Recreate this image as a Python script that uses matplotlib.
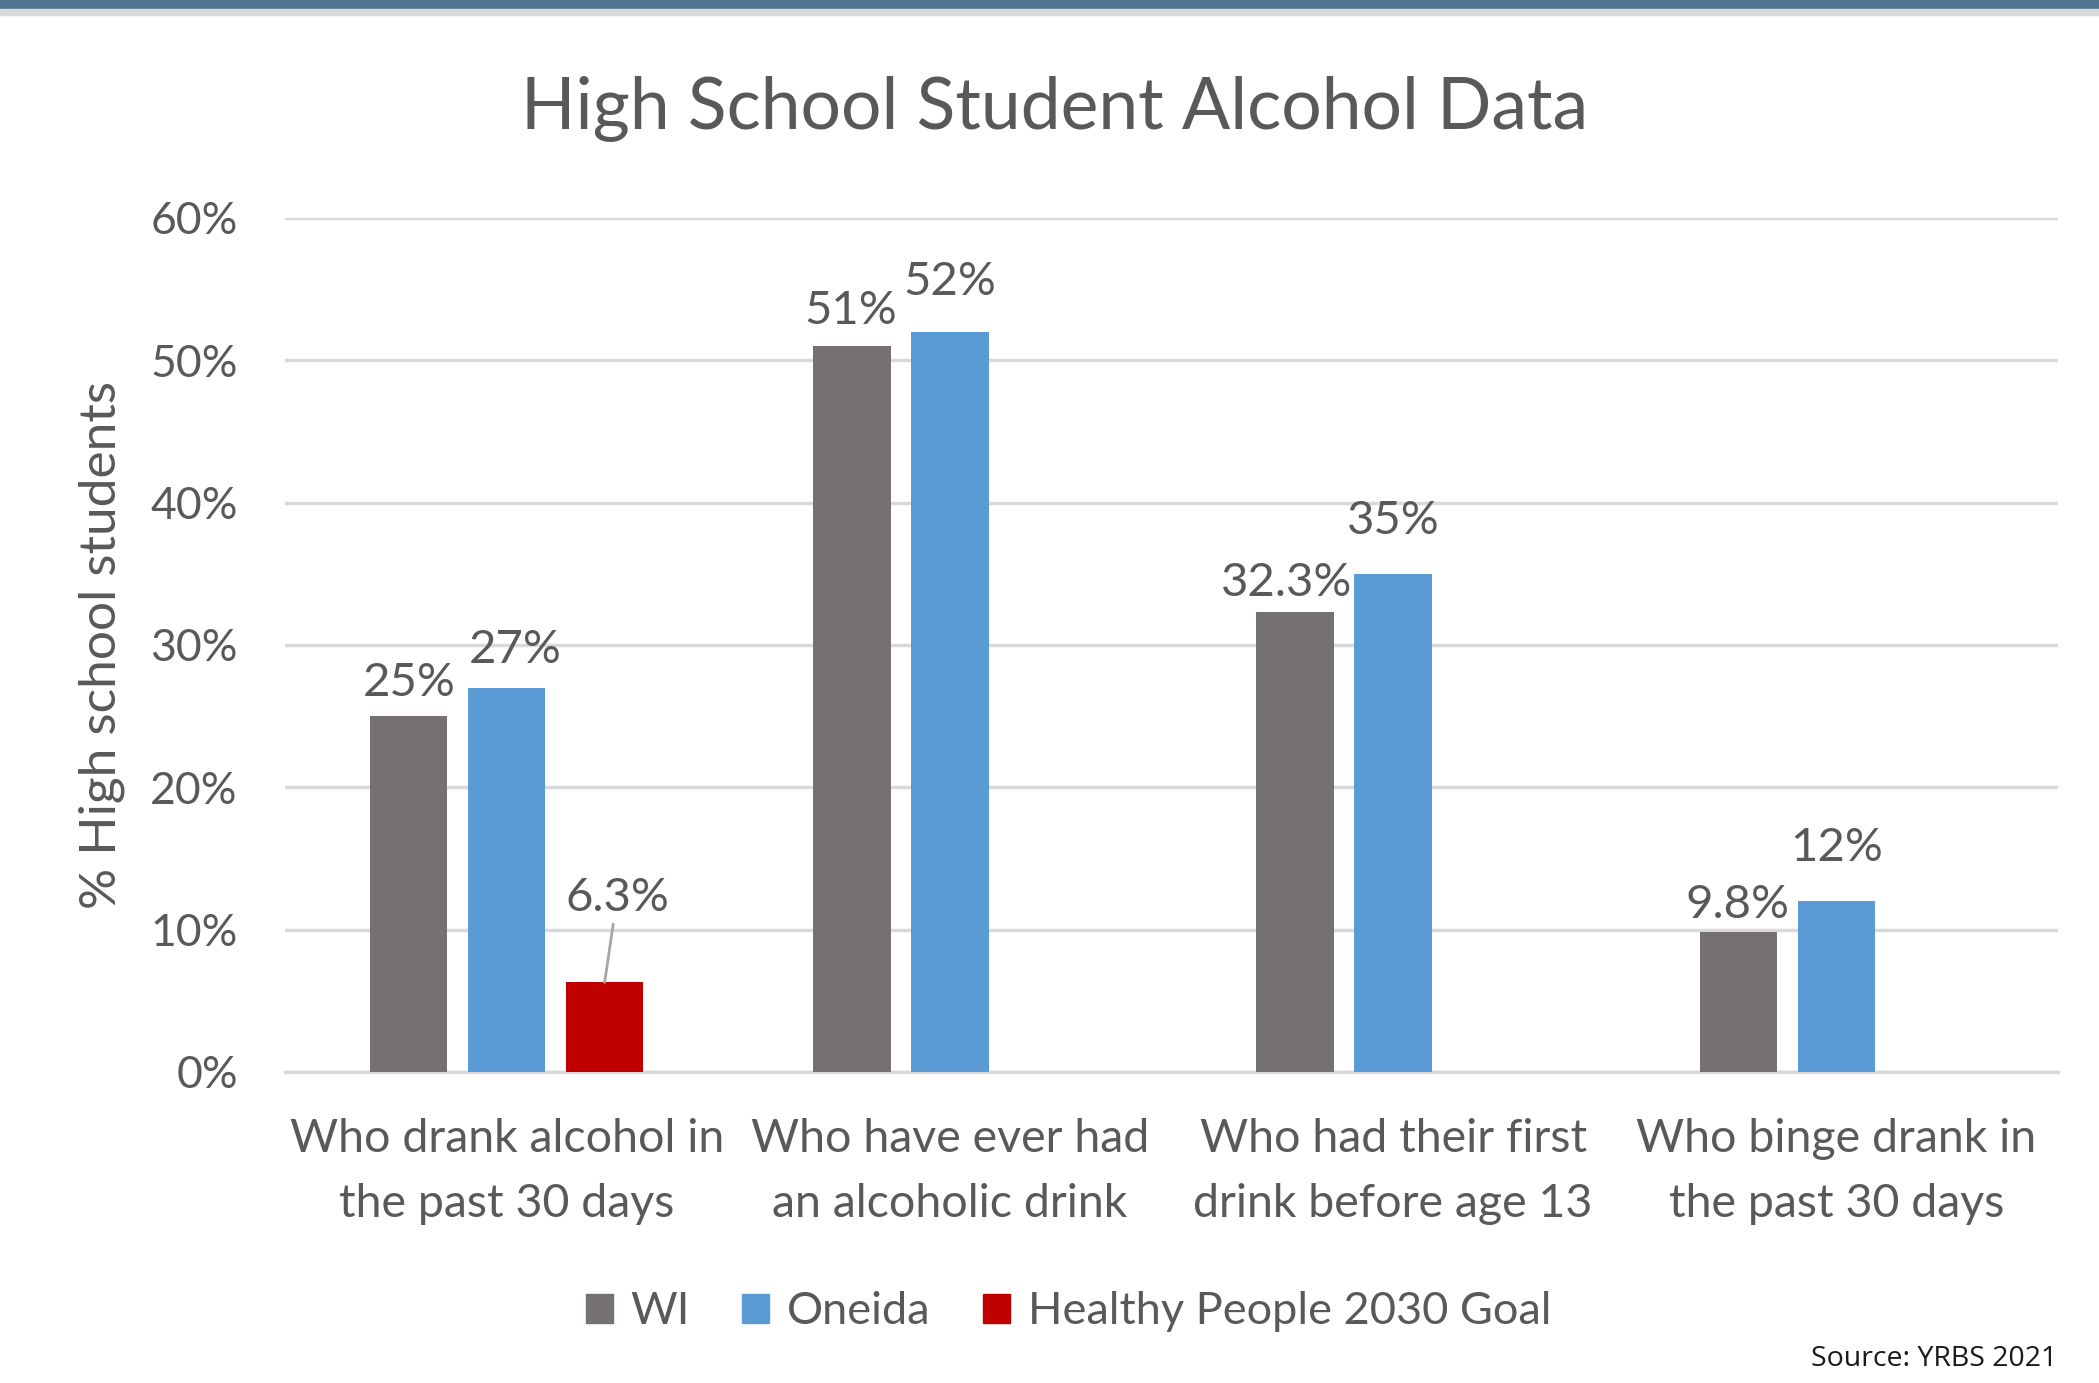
import matplotlib.pyplot as plt
from matplotlib.patches import Rectangle, Patch
import numpy as np

categories = ["Who drank alcohol in\nthe past 30 days",
              "Who have ever had\nan alcoholic drink",
              "Who had their first\ndrink before age 13",
              "Who binge drank in\nthe past 30 days"]
wi = [25, 51, 32.3, 9.8]
oneida = [27, 52, 35, 12]
goal = [6.3]  # only the first category has a goal
wi_labels = ["25%", "51%", "32.3%", "9.8%"]
oneida_labels = ["27%", "52%", "35%", "12%"]
goal_labels = ["6.3%"]
yticks = [0, 10, 20, 30, 40, 50, 60]

grey = "#767171"
blue = "#5b9bd5"
red = "#c00000"
txt = "#595959"
font = "Lato"

fig = plt.figure(figsize=(20.99, 13.83), dpi=100)
# top banner
fig.patches.append(Rectangle((0, 1 - 9 / 1383), 1, 9 / 1383, transform=fig.transFigure,
                             color="#4f7391", zorder=0))
fig.patches.append(Rectangle((0, 1 - 15 / 1383), 1, 6 / 1383, transform=fig.transFigure,
                             color="#d9d9d9", zorder=0))

ax = fig.add_axes((0.1358, 0.2249, 0.8447, 0.6175))
x = np.arange(len(categories))
w = 0.175
off = 0.221

ax.bar(x - off, wi, w, color=grey, zorder=3)
ax.bar(x, oneida, w, color=blue, zorder=3)
ax.bar(x[:len(goal)] + off, goal, w, color=red, zorder=3)

# data labels (offsets in points, mimic Excel's placement)
wi_dy = [24, 25, 21, 20]
wi_dx = [0, -1, -6, -1]
on_dy = [27, 36, 38, 38]
on_dx = [6, 0, 0, 0]
lab_size = 34
for i in range(len(categories)):
    ax.annotate(wi_labels[i], (x[i] - off, wi[i]), xytext=(wi_dx[i], wi_dy[i]),
                textcoords="offset points", ha="center", va="center",
                fontsize=lab_size, color=txt, family=font)
    ax.annotate(oneida_labels[i], (x[i], oneida[i]), xytext=(on_dx[i], on_dy[i]),
                textcoords="offset points", ha="center", va="center",
                fontsize=lab_size, color=txt, family=font)
for i in range(len(goal)):
    ax.annotate(goal_labels[i], (x[i] + off, goal[i]), xytext=(9, 61),
                textcoords="offset points", ha="center", va="center",
                fontsize=lab_size, color=txt, family=font,
                arrowprops=dict(arrowstyle="-", color="#a6a6a6", lw=2,
                                shrinkA=2, shrinkB=0))

ax.set_xlim(-0.5, len(categories) - 0.5)
ax.set_ylim(0, 60)
ax.set_yticks(yticks)
ax.set_yticklabels([f"{t}%" for t in yticks], fontsize=32, color=txt, family=font)
ax.set_xticks(x)
ax.set_xticklabels(categories, fontsize=33.5, color=txt, family=font, linespacing=1.68)
ax.tick_params(axis="both", length=0)
ax.tick_params(axis="y", pad=34)
ax.tick_params(axis="x", pad=33)
ax.grid(axis="y", color="#d9d9d9", lw=2.5, zorder=0)
for s in ["top", "right", "left"]:
    ax.spines[s].set_visible(False)
ax.spines["bottom"].set_color("#d9d9d9")
ax.spines["bottom"].set_linewidth(2.5)

ax.set_ylabel("% High school students", fontsize=37, color=txt, family=font, labelpad=18)
fig.suptitle("High School Student Alcohol Data", x=0.5026, y=0.921, va="center",
             fontsize=51.5, color=txt, family=font)

handles = [Patch(color=grey, label="WI"), Patch(color=blue, label="Oneida"),
           Patch(color=red, label="Healthy People 2030 Goal")]
fig.legend(handles=handles, loc="center", bbox_to_anchor=(0.509, 0.0514), ncol=3,
           frameon=False, handlelength=0.6, handleheight=0.6, handletextpad=0.4,
           columnspacing=1.15, prop={"family": font, "size": 32.5}, labelcolor=txt)

fig.text(0.98, 0.0174, "Source: YRBS 2021", ha="right", va="center",
         fontsize=20.5, color="#1a1a1a", family="Open Sans")

fig.savefig("out.png", dpi=100)
